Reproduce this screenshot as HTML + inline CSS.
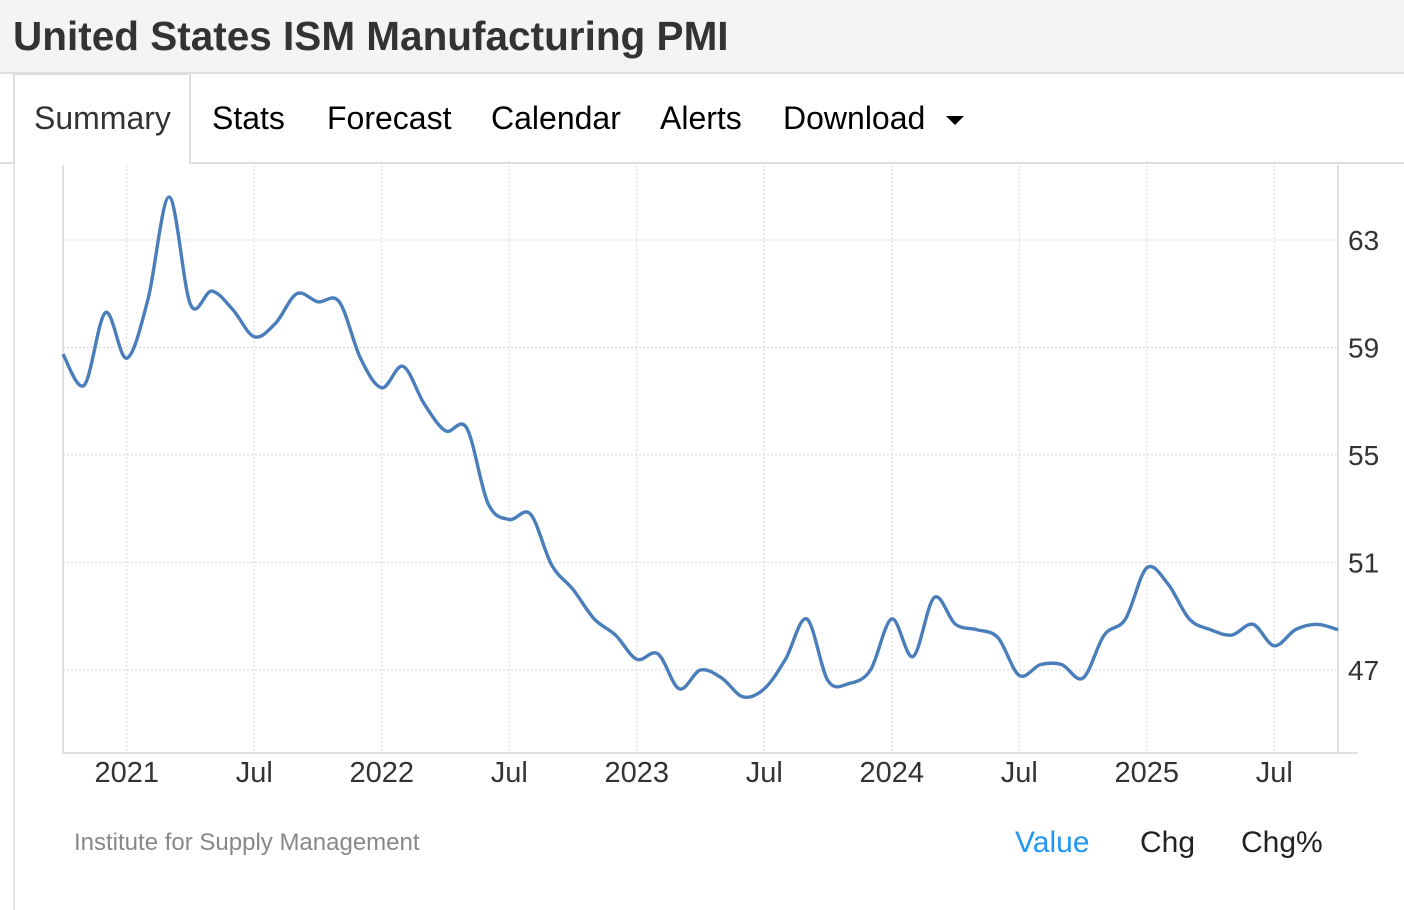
<!DOCTYPE html>
<html><head><meta charset="utf-8"><style>
body{margin:0;width:1404px;height:910px;background:#fff;font-family:"Liberation Sans",Arial,sans-serif;position:relative;overflow:hidden}
.hdr{position:absolute;left:0;top:0;width:1404px;height:72px;background:#f4f4f4;border-bottom:2px solid #ddd}
.hdr h1{margin:0;position:absolute;left:13px;top:13px;font-size:40.5px;font-weight:bold;color:#333}
.tabline{position:absolute;left:0;top:162px;width:1404px;height:2px;background:#ddd}
.tab{position:absolute;top:100px;font-size:32px;color:#000}
.active{position:absolute;left:13px;top:73px;width:178px;height:91px;border:2px solid #ddd;border-bottom:none;background:#fff;box-sizing:border-box}
.lside{position:absolute;left:13px;top:162px;width:2px;height:748px;background:#e6e6e6}
.foot{position:absolute;top:830px;font-size:23px}
</style></head><body>
<div class="hdr"><h1>United States ISM Manufacturing PMI</h1></div>
<div class="tabline"></div>
<div class="lside"></div>
<div class="active"></div>
<div class="tab" style="left:34px;color:#333">Summary</div>
<div class="tab" style="left:212px">Stats</div>
<div class="tab" style="left:327px">Forecast</div>
<div class="tab" style="left:491px">Calendar</div>
<div class="tab" style="left:660px">Alerts</div>
<div class="tab" style="left:783px">Download <span style="display:inline-block;width:0;height:0;border-left:9px solid transparent;border-right:9px solid transparent;border-top:9px solid #000;vertical-align:middle;margin-left:12px"></span></div>
<svg id="chart" width="1404" height="910" style="position:absolute;left:0;top:0"></svg>
<div class="foot" style="left:74px;color:#888;font-size:24px;top:829px">Institute for Supply Management</div>
<div class="foot" style="left:1015px;color:#2196f3;font-size:30px;top:826px">Value</div>
<div class="foot" style="left:1140px;color:#222;font-size:30px;top:826px">Chg</div>
<div class="foot" style="left:1241px;color:#222;font-size:30px;top:826px">Chg%</div>
<script>
const values=[58.75,57.6,60.3,58.6,60.8,64.6,60.6,61.1,60.4,59.4,59.9,61.0,60.7,60.7,58.6,57.5,58.3,56.9,55.9,56.0,53.2,52.6,52.8,50.9,50.0,48.9,48.3,47.4,47.6,46.3,47.0,46.7,46.0,46.3,47.4,48.9,46.6,46.5,47.0,48.9,47.5,49.7,48.7,48.5,48.2,46.8,47.2,47.2,46.7,48.3,48.9,50.8,50.2,48.9,48.5,48.3,48.7,47.9,48.5,48.7,48.5];
const yTicks=[47,51,55,59,63];
const xTickLabels=["2021","Jul","2022","Jul","2023","Jul","2024","Jul","2025","Jul"];
const xTickIdx=[3,9,15,21,27,33,39,45,51,57];
const NS="http://www.w3.org/2000/svg";
const svg=document.getElementById('chart');
const x0=63,dx=21.25;
const X=i=>x0+i*dx;
const Y=v=>670-(v-47)*(670-240)/16;
function mk(t,a){const e=document.createElementNS(NS,t);for(const k in a)e.setAttribute(k,a[k]);svg.appendChild(e);return e;}
yTicks.forEach(v=>{
 const g=mk('line',{x1:63,x2:1338,y1:Y(v),y2:Y(v),stroke:'#d8d8d8','stroke-dasharray':'2,2'});
 
 
 const t=mk('text',{x:1348,y:Y(v)+10,'font-size':28,fill:'#333','font-family':'Liberation Sans, sans-serif'});
 t.textContent=v;
 
 
});
xTickIdx.forEach((i,k)=>{
 const g=mk('line',{x1:X(i),x2:X(i),y1:165,y2:753,stroke:'#d8d8d8','stroke-dasharray':'2,2'});
 
 
 const t=mk('text',{x:X(i),y:782,'font-size':29,fill:'#333','text-anchor':'middle','font-family':'Liberation Sans, sans-serif'});
 t.textContent=xTickLabels[k];
 
 
});
const ax=mk('path',{d:'M63 165V753H1358M1338 165V753',stroke:'#e0e0e0','stroke-width':2,fill:'none'});


const p=values.map((v,i)=>[X(i),Y(v)]);
let d=`M${p[0][0]},${p[0][1]}`;
for(let i=0;i<p.length-1;i++){
 const a=p[Math.max(0,i-1)],b=p[i],c=p[i+1],e=p[Math.min(p.length-1,i+2)];
 const c1=[b[0]+(c[0]-a[0])/6,b[1]+(c[1]-a[1])/6],c2=[c[0]-(e[0]-b[0])/6,c[1]-(e[1]-b[1])/6];
 d+=`C${c1[0]},${c1[1]} ${c2[0]},${c2[1]} ${c[0]},${c[1]}`;
}
const ln=mk('path',{d:d,stroke:'#4a7ebb','stroke-width':3.4,fill:'none','stroke-linejoin':'round'});


</script>
</body></html>
